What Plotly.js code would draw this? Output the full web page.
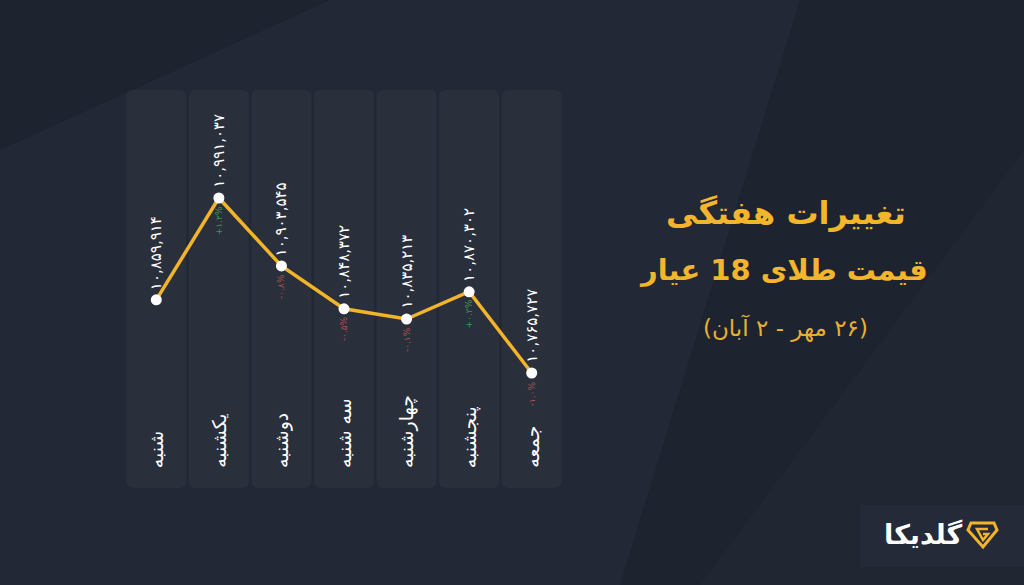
<!DOCTYPE html>
<html>
<head>
<meta charset="utf-8">
<script src="https://cdn.plot.ly/plotly-3.0.1.min.js"></script>
<style>
  html, body { margin: 0; padding: 0; background: #1f2430; }
  #chart { width: 1024px; height: 585px; }
</style>
</head>
<body>
<div id="chart"></div>
<script>
// ---- data ----
const days = ['شنبه', 'یکشنبه', 'دوشنبه', 'سه شنبه', 'چهارشنبه', 'پنجشنبه', 'جمعه'];
const prices = [10859914, 10991037, 10903545, 10848372, 10835213, 10870302, 10765727];
const priceLabels = ['۱۰,۸۵۹,۹۱۴', '۱۰,۹۹۱,۰۳۷', '۱۰,۹۰۳,۵۴۵', '۱۰,۸۴۸,۳۷۲', '۱۰,۸۳۵,۲۱۳', '۱۰,۸۷۰,۳۰۲', '۱۰,۷۶۵,۷۲۷'];
const changeLabels = ['', '+۱.۲%', '-۰.۸%', '-۰.۵%', '-۰.۱%', '+۰.۳%', '-۱.۰%'];
const titleLine1 = 'تغییرات هفتگی';
const titleLine2 = 'قیمت طلای 18 عیار';
const subtitle = '\u202B(۲۶ مهر - ۲ آبان)\u202C';
const brand = 'گلدیکا';

// ---- layout helpers (pixel -> paper) ----
const W = 1024, H = 585;
const M = { l: 125, r: 1024 - 563, t: 90, b: 585 - 488 };
const PW = W - M.l - M.r, PH = H - M.t - M.b;
const px = x => (x - M.l) / PW;
const py = y => (H - M.b - y) / PH;

const FONT = 'DejaVu Sans, Noto Sans, sans-serif';
const xIdx = days.map((d, i) => i);

// ---- shapes ----
const shapes = [];
// subtle background facets
shapes.push({ type: 'path', xref: 'paper', yref: 'paper', layer: 'below',
  path: `M ${px(0)},${py(150)} L ${px(330)},${py(0)} L ${px(800)},${py(0)} L ${px(620)},${py(585)} L ${px(0)},${py(585)} Z`,
  fillcolor: '#222835', line: { width: 0 } });
shapes.push({ type: 'path', xref: 'paper', yref: 'paper', layer: 'below',
  path: `M ${px(1024)},${py(150)} L ${px(1024)},${py(585)} L ${px(700)},${py(585)} Z`,
  fillcolor: '#212633', line: { width: 0 } });
// logo box
shapes.push({ type: 'rect', xref: 'paper', yref: 'paper', layer: 'below',
  x0: px(860), x1: px(1024), y0: py(505), y1: py(567),
  fillcolor: '#242a37', line: { width: 0 } });
// column panels (rounded)
const hw = 0.479, rx = 7 / (PW / 7), ry = 7 / PH;
xIdx.forEach(i => {
  const x0 = i - hw, x1 = i + hw;
  shapes.push({ type: 'path', xref: 'x', yref: 'paper', layer: 'below',
    path: `M ${x0 + rx},0 L ${x1 - rx},0 Q ${x1},0 ${x1},${ry} L ${x1},${1 - ry} Q ${x1},1 ${x1 - rx},1 L ${x0 + rx},1 Q ${x0},1 ${x0},${1 - ry} L ${x0},${ry} Q ${x0},0 ${x0 + rx},0 Z`,
    fillcolor: '#2a2f3c', line: { width: 0 } });
});
// logo icon (gem outline + inner G)
const gem = [[971, 523], [994, 523], [997, 530], [983, 547], [968, 530]];
shapes.push({ type: 'path', xref: 'paper', yref: 'paper',
  path: 'M ' + gem.map(p => `${px(p[0])},${py(p[1])}`).join(' L ') + ' Z',
  fillcolor: 'rgba(0,0,0,0)', line: { color: '#f2b42a', width: 3 } });
const gin = [[988, 529], [977, 529], [983, 540], [988, 534], [983, 534]];
shapes.push({ type: 'path', xref: 'paper', yref: 'paper',
  path: 'M ' + gin.map(p => `${px(p[0])},${py(p[1])}`).join(' L '),
  fillcolor: 'rgba(0,0,0,0)', line: { color: '#f2b42a', width: 2.5 } });

// ---- annotations ----
const annotations = [];
xIdx.forEach(i => {
  annotations.push({ x: i, y: prices[i], xref: 'x', yref: 'y', text: priceLabels[i],
    showarrow: false, textangle: -90, xanchor: 'center', yanchor: 'bottom', yshift: 8,
    font: { family: FONT, size: 15, color: '#ffffff' } });
  if (changeLabels[i]) {
    annotations.push({ x: i, y: prices[i], xref: 'x', yref: 'y', text: changeLabels[i],
      showarrow: false, textangle: -90, xanchor: 'center', yanchor: 'top', yshift: -6,
      font: { family: FONT, size: 9, color: changeLabels[i][0] === '+' ? '#3f9a4e' : '#b0524e' } });
  }
  annotations.push({ x: i, y: py(470), xref: 'x', yref: 'paper', text: days[i],
    showarrow: false, textangle: -90, xanchor: 'center', yanchor: 'bottom',
    font: { family: FONT, size: 19, color: '#ffffff' } });
});
annotations.push({ x: px(786), y: py(213), xref: 'paper', yref: 'paper', text: titleLine1,
  showarrow: false, xanchor: 'center', yanchor: 'middle',
  font: { family: FONT, size: 32, color: '#f3b52b', weight: 'bold' } });
annotations.push({ x: px(783), y: py(270), xref: 'paper', yref: 'paper', text: titleLine2,
  showarrow: false, xanchor: 'center', yanchor: 'middle',
  font: { family: FONT, size: 29, color: '#f3b52b', weight: 'bold' } });
annotations.push({ x: px(785), y: py(328), xref: 'paper', yref: 'paper', text: subtitle,
  showarrow: false, xanchor: 'center', yanchor: 'middle',
  font: { family: FONT, size: 23, color: '#e9b030' } });
annotations.push({ x: px(923), y: py(534), xref: 'paper', yref: 'paper', text: brand,
  showarrow: false, xanchor: 'center', yanchor: 'middle',
  font: { family: FONT, size: 27, color: '#ffffff', weight: 'bold' } });

// ---- trace ----
const trace = {
  x: xIdx, y: prices, type: 'scatter', mode: 'lines+markers',
  line: { color: '#f1b42b', width: 3.5 },
  marker: { color: '#ffffff', size: 11 },
  hoverinfo: 'skip', cliponaxis: false
};

const layout = {
  width: W, height: H,
  margin: M,
  paper_bgcolor: '#1e2330',
  plot_bgcolor: 'rgba(0,0,0,0)',
  showlegend: false,
  xaxis: { range: [-0.5, 6.5], visible: false, fixedrange: true },
  yaxis: { range: [10617662, 11130087], visible: false, fixedrange: true },
  shapes, annotations
};

Plotly.newPlot('chart', [trace], layout, { displayModeBar: false, staticPlot: true });
</script>
</body>
</html>
